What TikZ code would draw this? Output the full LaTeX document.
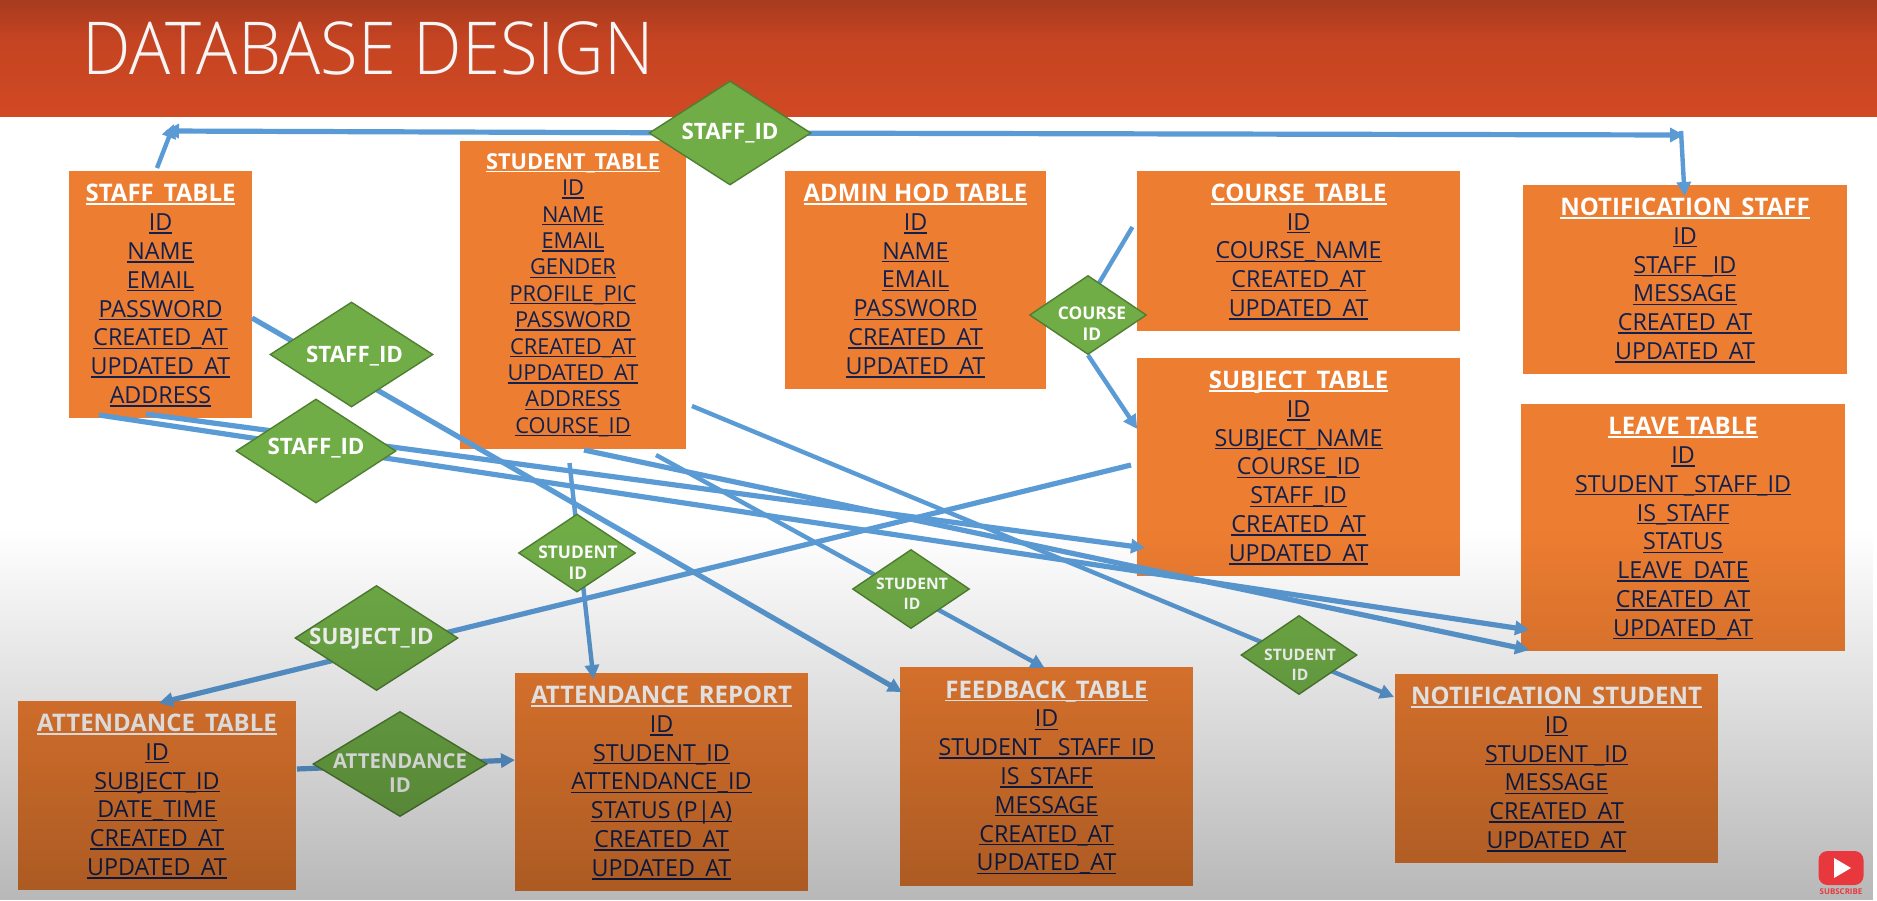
\documentclass[tikz,border=0pt]{standalone}
\usepackage{fontspec}
\usetikzlibrary{shapes.geometric,arrows.meta,fadings}
\setmainfont{Open Sans}[FakeStretch=0.99]
\newfontfamily\titlefont{Open Sans Light}[FakeStretch=0.94]
\definecolor{rowink}{HTML}{10204F}
\definecolor{boxfill}{HTML}{ED7D31}
\definecolor{linkblue}{HTML}{5B9BD5}
\definecolor{diafill}{HTML}{70AD47}
\definecolor{diaedge}{HTML}{507E32}
\definecolor{hdtop}{HTML}{A83B1E}
\definecolor{hdmid}{HTML}{C64422}
\definecolor{hdbot}{HTML}{D04923}
\definecolor{ytred}{HTML}{E8383D}
\newsavebox\rowbox
\newcommand\R[1]{{\color{rowink}\sbox\rowbox{#1}\makebox[0pt][l]{\rule[-3.2pt]{\wd\rowbox}{1.4pt}}\usebox\rowbox}}
\newcommand\Tn[2][24.2]{{\color{white}\fontsize{#1}{26}\selectfont\bfseries\sbox\rowbox{#2}\makebox[0pt][l]{\rule[-3.2pt]{\wd\rowbox}{1.6pt}}\usebox\rowbox}}
\newcommand\T[1]{\rule{0pt}{19.5pt}\Tn{#1}}
\newcommand\dia[3][0pt]{\raisebox{\dimexpr-0.3em-#2\relax}[0pt][0pt]{\makebox[0pt]{\hspace*{#1}\begin{tabular}{@{}c@{}}#3\end{tabular}}}}
\pgfdeclarelayer{bglayer}\pgfdeclarelayer{boxlayer}\pgfdeclarelayer{linelayer}\pgfdeclarelayer{overlayer}
\pgfsetlayers{bglayer,boxlayer,linelayer,main,overlayer}
\tikzfading[name=slidefade,top color=transparent!100,bottom color=transparent!72]
\tikzset{
  tablebox/.style args={#1/#2/#3}{rectangle,fill=boxfill,inner sep=0pt,align=center,
    minimum width=#1pt,minimum height=#2pt,font=\fontsize{23.5}{#3}\selectfont,
    execute at begin node={\setlength\baselineskip{#3pt}}},
  relation/.style={diamond,fill=diafill,draw=diaedge,line width=1.4pt,inner sep=0pt,text=white},
  big/.style={font=\fontsize{22.6}{24}\selectfont\bfseries},
  small/.style={font=\fontsize{17.5}{21}\selectfont\bfseries},
  mid/.style={font=\fontsize{20.5}{24}\selectfont\bfseries},
  tiny/.style={font=\fontsize{15.8}{20}\selectfont\bfseries},
  link/.style={draw=linkblue,line width=5.2pt},
  thinlink/.style={draw=linkblue,line width=4.4pt},
  tip/.style={-{Triangle[length=14pt,width=14pt]}}
}
\begin{document}
\begin{tikzpicture}[x=1pt,y=-1pt]
\useasboundingbox (0,0) rectangle (1877,900);
\begin{pgfonlayer}{bglayer}
\fill[white] (0,0) rectangle (1877,900);
\shade[top color=hdtop,bottom color=hdmid] (0,0) rectangle (1877,42);
\shade[top color=hdmid,bottom color=hdbot] (0,42) rectangle (1877,116);
\node[anchor=west,text=white!96!black,inner sep=0pt,font=\fontsize{73}{80}\selectfont\titlefont] (title) at (82,48) {DATABASE DESIGN};
\end{pgfonlayer}
\begin{pgfonlayer}{boxlayer}
\node[tablebox=183/247/28.8] (staff) at (160.5,294.5) {\T{STAFF\_TABLE}\\\R{ID}\\\R{NAME}\\\R{EMAIL}\\\R{PASSWORD}\\\R{CREATED\_AT}\\\R{UPDATED\_AT}\\\R{ADDRESS}};
\node[tablebox=226/308/26.4,font=\fontsize{22}{26.4}\selectfont] (student) at (573,295) {\Tn[22]{STUDENT\_TABLE}\\\R{ID}\\\R{NAME}\\\R{EMAIL}\\\R{GENDER}\\\R{PROFILE\_PIC}\\\R{PASSWORD}\\\R{CREATED\_AT}\\\R{UPDATED\_AT}\\\R{ADDRESS}\\\R{COURSE\_ID}};
\node[tablebox=261/218/28.8] (admin) at (915.5,280) {\T{ADMIN HOD TABLE}\\\R{ID}\\\R{NAME}\\\R{EMAIL}\\\R{PASSWORD}\\\R{CREATED\_AT}\\\R{UPDATED\_AT}};
\node[tablebox=323/160/28.8] (course) at (1298.6,251) {\T{COURSE\_TABLE}\\\R{ID}\\\R{COURSE\_NAME}\\\R{CREATED\_AT}\\\R{UPDATED\_AT}};
\node[tablebox=323/218/28.8] (subject) at (1298.6,467) {\T{SUBJECT\_TABLE}\\\R{ID}\\\R{SUBJECT\_NAME}\\\R{COURSE\_ID}\\\R{STAFF\_ID}\\\R{CREATED\_AT}\\\R{UPDATED\_AT}};
\node[tablebox=324/189/28.8] (notifstaff) at (1685,279.5) {\T{NOTIFICATION\_STAFF}\\\R{ID}\\\R{STAFF \_ID}\\\R{MESSAGE}\\\R{CREATED\_AT}\\\R{UPDATED\_AT}};
\node[tablebox=324/247/28.8] (leave) at (1683,527.5) {\T{LEAVE TABLE}\\\R{ID}\\\R{STUDENT \_STAFF\_ID}\\\R{IS\_STAFF}\\\R{STATUS}\\\R{LEAVE\_DATE}\\\R{CREATED\_AT}\\\R{UPDATED\_AT}};
\node[tablebox=278/189/28.8] (attendance) at (157,795.5) {\T{ATTENDANCE\_TABLE}\\\R{ID}\\\R{SUBJECT\_ID}\\\R{DATE\_TIME}\\\R{CREATED\_AT}\\\R{UPDATED\_AT}};
\node[tablebox=293/218/28.8] (report) at (661.5,782) {\T{ATTENDANCE\_REPORT}\\\R{ID}\\\R{STUDENT\_ID}\\\R{ATTENDANCE\_ID}\\\R{STATUS (P|A)}\\\R{CREATED\_AT}\\\R{UPDATED\_AT}};
\node[tablebox=293/219/28.8] (feedback) at (1046.5,776.5) {\T{FEEDBACK\_TABLE}\\\R{ID}\\\R{STUDENT \_STAFF\_ID}\\\R{IS\_STAFF}\\\R{MESSAGE}\\\R{CREATED\_AT}\\\R{UPDATED\_AT}};
\node[tablebox=323/189/28.8] (notifstudent) at (1556.5,768.5) {\T{NOTIFICATION\_STUDENT}\\\R{ID}\\\R{STUDENT \_ID}\\\R{MESSAGE}\\\R{CREATED\_AT}\\\R{UPDATED\_AT}};
\end{pgfonlayer}
% relations
\node[relation,big,minimum width=162pt,minimum height=104pt] (r1) at (730,133) {\dia{0pt}{STAFF\_ID}};
\node[relation,big,minimum width=163pt,minimum height=105pt] (r2) at (351.5,354.5) {\dia[6pt]{2pt}{STAFF\_ID}};
\node[relation,big,minimum width=160pt,minimum height=104pt] (r3) at (316,451) {\dia{-3pt}{STAFF\_ID}};
\node[relation,small,minimum width=117pt,minimum height=78pt] (r4) at (577,553) {\dia[2pt]{11pt}{STUDENT\\ID}};
\node[relation,small,minimum width=117pt,minimum height=79pt] (r5) at (1088,315) {\dia[8pt]{10pt}{COURSE\\ID}};
\node[relation,big,minimum width=163pt,minimum height=105pt] (r6) at (376.5,638) {\dia[-10pt]{0pt}{SUBJECT\_ID}};
\node[relation,mid,minimum width=174pt,minimum height=105pt] (r7) at (400,764) {\dia{11pt}{ATTENDANCE\\ID}};
\node[relation,tiny,minimum width=117pt,minimum height=79pt] (r8) at (911,589) {\dia[2pt]{5pt}{STUDENT\\ID}};
\node[relation,tiny,minimum width=116pt,minimum height=79pt] (r9) at (1299,655) {\dia[2pt]{10pt}{STUDENT\\ID}};
% free ends of the connectors
\coordinate (cornerL) at (165,131);
\coordinate (staffTop) at (157,168);
\coordinate (cornerLtip) at (174,124);
\coordinate (cornerR) at (1684,135);
\coordinate (cornerRtop) at (1681,131);
\coordinate (notifTip) at (1684.6,196);
\coordinate (staffRight) at (252,318);
\coordinate (feedTipA) at (902,692);
\coordinate (staffBotA) at (146,414);
\coordinate (subjTipA) at (1145,548);
\coordinate (staffBotB) at (99,415);
\coordinate (leaveTipA) at (1529,630);
\coordinate (studBotA) at (584,450);
\coordinate (leaveTipB) at (1529,650);
\coordinate (studBotB) at (656,455);
\coordinate (feedTipB) at (1044.6,668);
\coordinate (studRight) at (692,406);
\coordinate (notifStudTip) at (1394,697);
\coordinate (studBotC) at (569.5,463);
\coordinate (reportTip) at (593.5,679);
\coordinate (subjLeft) at (1131,465);
\coordinate (attTip) at (159,703);
\coordinate (attRight) at (297,769);
\coordinate (reportLeft) at (515,760);
\coordinate (courseLeft) at (1132.4,227);
\coordinate (subjTipB) at (1137.2,429);
\begin{pgfonlayer}{linelayer}
\draw[link,tip] (r1.center) -- (cornerL);
\draw[thinlink,tip] (staffTop) -- (cornerLtip);
\draw[link,tip] (r1.center) -- (cornerR);
\draw[thinlink,tip] (cornerRtop) -- (notifTip);
\draw[link,tip] (staffRight) -- (feedTipA);
\draw[link,tip] (staffBotA) -- (subjTipA);
\draw[link,tip] (staffBotB) -- (leaveTipA);
\draw[link,tip] (studBotA) -- (leaveTipB);
\draw[thinlink,tip] (studBotB) -- (feedTipB);
\draw[thinlink,tip] (studRight) -- (notifStudTip);
\draw[thinlink,tip] (studBotC) -- (reportTip);
\draw[link,tip] (subjLeft) -- (attTip);
\draw[link,tip] (attRight) -- (reportLeft);
\draw[thinlink] (courseLeft) -- ([xshift=-8pt]r5.center);
\draw[thinlink,tip] (r5.south) -- (subjTipB);
\end{pgfonlayer}
\begin{pgfonlayer}{overlayer}
\fill[black,path fading=slidefade] (0,530) rectangle (1877,900);
\node[fill=ytred,rounded corners=9pt,minimum width=45pt,minimum height=34pt,inner sep=0pt] (yt) at (1841,868) {};
\fill[white] (1834,858) -- (1851,868) -- (1834,878) -- cycle;
\node[text=ytred,inner sep=0pt,font=\fontsize{8}{9}\selectfont\bfseries] (subscribe) at (1841,892) {SUBSCRIBE};
\end{pgfonlayer}
\end{tikzpicture}
\end{document}
